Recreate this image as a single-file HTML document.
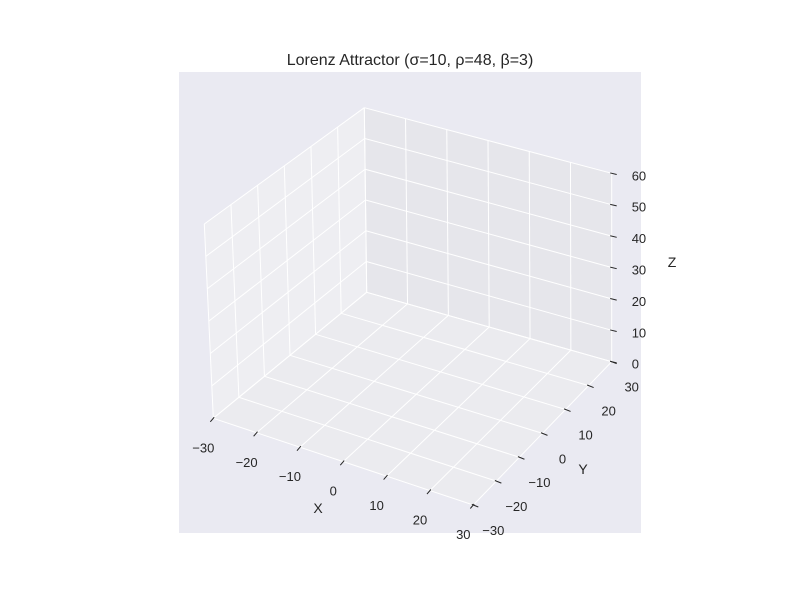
<!DOCTYPE html>
<html><head><meta charset="utf-8"><style>
html,body{margin:0;padding:0;background:#fff;}
svg{display:block;font-family:"Liberation Sans","DejaVu Sans",sans-serif;}
</style></head><body>
<svg id="chart" width="800" height="600" viewBox="0 0 800 600">
<rect x="179" y="72" width="462" height="461" fill="#eaeaf2"/>
<text x="410" y="65" text-anchor="middle" font-size="16" fill="#262626">Lorenz Attractor (σ=10, ρ=48, β=3)</text>
<g id="panes"></g><g id="grid"></g><g id="ticks"></g><g id="labels"></g>
<text x="318" y="513" text-anchor="middle" font-size="14" fill="#262626">X</text>
<text x="583" y="474" text-anchor="middle" font-size="14" fill="#262626">Y</text>
<text x="672" y="267" text-anchor="middle" font-size="14" fill="#262626">Z</text>
</svg>
<script>
const xTicks=[-30,-20,-10,0,10,20,30];
const yTicks=[-30,-20,-10,0,10,20,30];
const zTicks=[0,10,20,30,40,50,60];
const xTickLabels=["−30","−20","−10","0","10","20","30"];
const yTickLabels=["−30","−20","−10","0","10","20","30"];
const zTickLabels=["0","10","20","30","40","50","60"];
const xRange=[-30,30], yRange=[-30,30], zRange=[0,60];
const NS="http://www.w3.org/2000/svg";
const floorC=[[213.3,418.3],[473.3,505],[611.7,361.7],[366.7,292.3]];
const leftC=[[213.3,418.3],[366.7,292.3],[364.3,107.7],[204.3,224]];
const rightC=[[366.7,292.3],[611.7,361.7],[611.7,173.3],[364.3,107.7]];
function bil(c,u,v){
  const x=(1-u)*(1-v)*c[0][0]+u*(1-v)*c[1][0]+u*v*c[2][0]+(1-u)*v*c[3][0];
  const y=(1-u)*(1-v)*c[0][1]+u*(1-v)*c[1][1]+u*v*c[2][1]+(1-u)*v*c[3][1];
  return [x,y];
}
const nx=x=>(x-xRange[0])/(xRange[1]-xRange[0]);
const ny=y=>(y-yRange[0])/(yRange[1]-yRange[0]);
const nz=z=>(z-zRange[0])/(zRange[1]-zRange[0]);
function el(tag,attrs,parent){const e=document.createElementNS(NS,tag);for(const k in attrs)e.setAttribute(k,attrs[k]);parent.appendChild(e);return e;}
const panes=document.getElementById('panes'),grid=document.getElementById('grid'),ticks=document.getElementById('ticks'),labels=document.getElementById('labels');
function pane(c,fill,name){const p=el('polygon',{points:c.map(q=>q.join(',')).join(' '),fill:fill},panes);

}
pane(floorC,'#ebebef','floor-pane');
pane(leftC,'#eeeef2','left-pane');
pane(rightC,'#e6e6eb','right-pane');
function line(a,b,name){const l=el('line',{x1:a[0],y1:a[1],x2:b[0],y2:b[1],stroke:'#fff','stroke-width':1},grid);

}
xTicks.forEach(x=>{line(bil(floorC,nx(x),0),bil(floorC,nx(x),1),'floor-gridline-x');line(bil(rightC,nx(x),0),bil(rightC,nx(x),1),'right-gridline-x');});
yTicks.forEach(y=>{line(bil(floorC,0,ny(y)),bil(floorC,1,ny(y)),'floor-gridline-y');line(bil(leftC,ny(y),0),bil(leftC,ny(y),1),'left-gridline-y');});
zTicks.forEach(z=>{line(bil(leftC,0,nz(z)),bil(leftC,1,nz(z)),'left-gridline-z');line(bil(rightC,0,nz(z)),bil(rightC,1,nz(z)),'right-gridline-z');});
function tick(p,d,name){const t=el('line',{x1:p[0]-d[0]*0.3,y1:p[1]-d[1]*0.3,x2:p[0]+d[0],y2:p[1]+d[1],stroke:'#262626','stroke-width':1},ticks);

}
function label(p,txt,anchor,name){const t=el('text',{x:p[0],y:p[1],'font-size':13,fill:'#262626','text-anchor':anchor},labels);t.textContent=txt;

}
xTicks.forEach((x,i)=>{const p=bil(floorC,nx(x),0);tick(p,[-3,3.5],'x-tick');label([p[0]-10,p[1]+34],xTickLabels[i],'middle','x-tick-label');});
yTicks.forEach((y,i)=>{const p=bil(floorC,1,ny(y));tick(p,[5,2],'y-tick');label([p[0]+20,p[1]+30],yTickLabels[i],'middle','y-tick-label');});
zTicks.forEach((z,i)=>{const p=bil(rightC,1,nz(z));tick(p,[5,1.2],'z-tick');label([p[0]+20,p[1]+7],zTickLabels[i],'start','z-tick-label');});
</script>
</body></html>
